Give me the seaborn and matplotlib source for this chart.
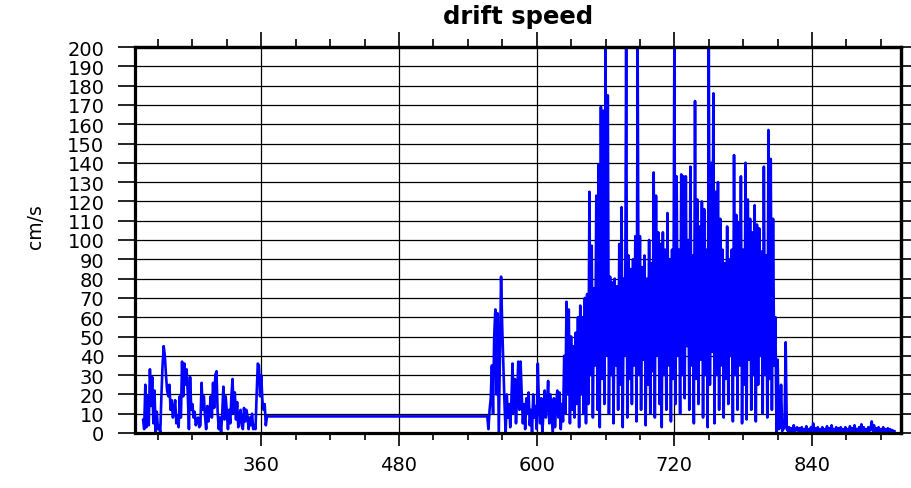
import numpy as np
import pandas as pd
import matplotlib
matplotlib.use("Agg")
import matplotlib.pyplot as plt
import seaborn as sns

# --- drift speed record (cm/s), hourly samples -----------------------------
# first deployment leg
leg1_start = 257
leg1_speed = [7, 2, 25, 3, 19, 4, 33, 14, 29, 5,
              22, 0, 11, 2, 4, 0, 19, 35, 45, 40,
              30, 22, 19, 25, 12, 17, 8, 12, 17, 5,
              9, 3, 19, 8, 37, 19, 36, 25, 33, 20,
              2, 29, 12, 15, 8, 11, 4, 7, 8, 3,
              4, 26, 12, 19, 9, 2, 14, 6, 11, 19,
              8, 26, 13, 30, 32, 11, 2, 8, 0, 10,
              24, 7, 19, 11, 2, 12, 5, 19, 28, 10,
              21, 7, 16, 3, 7, 12, 4, 2, 13, 6,
              12, 9, 2, 8, 4, 10, 2, 4, 2, 20,
              36, 35, 19, 30, 17, 12, 15, 4, 8.6]

# second leg, after the gap in the record
leg2_start = 557
leg2_speed = [8.6, 2, 12, 18, 35, 10, 50, 64, 20, 62,
              0, 40, 81, 55, 35, 15, 0, 20, 8, 15,
              3, 17, 36, 10, 28, 5, 20, 37, 12, 37,
              20, 5, 15, 2, 18, 10, 21, 4, 12, 0,
              20, 8, 14, 2, 36, 15, 5, 18, 0, 12,
              22, 8, 15, 27, 5, 20, 10, 0, 18, 3,
              15, 22, 8, 21, 2, 15,
              6, 40, 10, 68, 20, 64, 5, 50, 12, 45,
              8, 52, 15, 60, 3, 66, 20, 60, 10, 70,
              5, 72, 15, 125, 30, 97, 8, 75, 35, 123,
              12, 139, 3, 169, 28, 167, 15, 200, 40, 175,
              10, 81, 30, 78, 5, 80, 35, 76, 12, 98,
              25, 117, 3, 80, 40, 200, 8, 92, 28, 85,
              15, 90, 35, 102, 6, 200, 30, 102, 12, 86,
              38, 92, 4, 80, 25, 100, 10, 88, 32, 135,
              8, 123, 40, 104, 15, 98, 3, 104, 30, 95,
              12, 114, 35, 90, 6, 95, 28, 200, 15, 133,
              40, 95, 10, 134, 30, 133, 18, 133, 45, 100,
              12, 138, 35, 92, 5, 172, 28, 121, 15, 107,
              38, 120, 8, 116, 30, 95, 3, 200, 25, 140,
              42, 176, 5, 125, 30, 130, 12, 111, 35, 95,
              8, 88, 28, 107, 15, 90, 40, 95, 6, 144,
              30, 113, 12, 109, 35, 133, 5, 95, 25, 140,
              7, 121, 38, 111, 12, 104, 30, 118, 6, 108,
              25, 106, 40, 94, 10, 138, 30, 92, 8, 157,
              28, 142, 12, 111, 35, 60,
              0, 38, 2, 3, 25, 1, 2, 3, 47, 2,
              1, 3, 0.5, 2.5, 1, 4, 0.5, 2, 3, 1,
              2.5, 0, 3, 1, 2, 0.5, 3.5, 1, 2, 0.5,
              3, 1, 5, 0.5, 2.5, 1, 3, 0, 2, 1,
              3, 0.5, 2, 1, 3.5, 1, 2.5, 0.5, 4, 1,
              2, 0.5, 3, 1, 2.5, 0, 3, 1, 2, 0.5,
              3, 1, 2, 0.5, 3.5, 1, 2.5, 0.5, 4, 1,
              2, 0.5, 3, 1, 4.5, 0.5, 3, 1, 2, 0.5,
              3, 1, 2.5, 6, 1, 4, 0.5, 2.5, 1, 3,
              0.5, 2, 1, 3, 0.5, 2, 1, 2.5, 0.5, 2,
              1, 1.5, 0.5, 1]

x_major = [360, 480, 600, 720, 840]
x_minor = [270, 300, 330, 390, 420, 450, 510, 540, 570, 630, 660, 690,
           750, 780, 810, 870, 900]
y_ticks = list(range(0, 201, 10))

df = pd.DataFrame({
    "time": np.concatenate([leg1_start + np.arange(len(leg1_speed)),
                            leg2_start + np.arange(len(leg2_speed))]),
    "speed": np.concatenate([leg1_speed, leg2_speed]),
})

sns.set_style("ticks")
plt.rcParams["font.family"] = ["DejaVu Sans"]
for key in ("text.color", "axes.labelcolor", "xtick.color", "ytick.color",
            "axes.edgecolor"):
    plt.rcParams[key] = "black"

fig = plt.figure(figsize=(9.12, 4.89), dpi=100)
ax = fig.add_axes([135 / 912, 1 - 434 / 489, 766 / 912, 386 / 489])

ax.grid(True, which="major", color="black", linewidth=0.9)
sns.lineplot(data=df, x="time", y="speed", ax=ax, color="#0000ff",
             linewidth=1.9, estimator=None, sort=False)

ax.set_xlim(250, 917.5)
ax.set_ylim(0, 200)
ax.set_xticks(x_major)
ax.set_xticks(x_minor, minor=True)
ax.set_yticks(y_ticks)
ax.set_xlabel("")
ax.set_ylabel("")

ax.tick_params(axis="x", which="major", direction="out", length=9.5, width=1.2,
               labelsize=14, pad=6)
ax.tick_params(axis="x", which="minor", direction="out", length=5, width=1.2)
ax.tick_params(axis="y", which="major", direction="out", length=12, width=1.2,
               labelsize=14, pad=10)

for s in ax.spines.values():
    s.set_linewidth(2.3)
    s.set_color("black")
    s.set_visible(True)

top = ax.secondary_xaxis("top")
top.set_xticks(x_major)
top.set_xticks(x_minor, minor=True)
top.tick_params(which="major", direction="out", length=11, width=1.2, labeltop=False)
top.tick_params(which="minor", direction="out", length=6, width=1.2)
top.spines["top"].set_linewidth(2.3)

right = ax.secondary_yaxis("right")
right.set_yticks(y_ticks)
right.tick_params(direction="out", length=7.5, width=1.2, labelright=False)
right.spines["right"].set_linewidth(2.3)

fig.text(518 / 912, 1 - 17 / 489, "drift speed", ha="center", va="center",
         fontsize=17.5, fontweight="bold")
fig.text(35 / 912, 1 - 227 / 489, "cm/s", ha="center", va="center",
         rotation=90, fontsize=13.5)

fig.savefig("out.png", dpi=100)
